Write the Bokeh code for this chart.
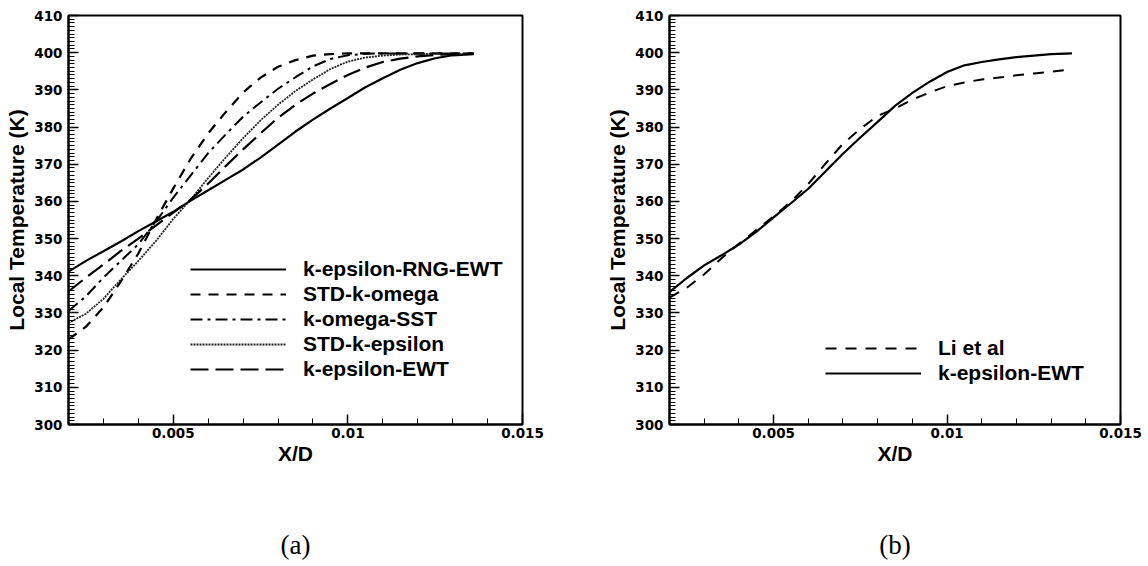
from bokeh.plotting import figure
from bokeh.layouts import row
from bokeh.models import Range1d, FixedTicker, Legend, LegendItem, LinearAxis
from bokeh.embed import file_html
from bokeh.resources import INLINE

# ---------------- data: panel (a) ----------------
x_a = [0.002, 0.0025, 0.003, 0.0035, 0.004, 0.0045, 0.005, 0.0055, 0.006, 0.0065,
       0.007, 0.0075, 0.008, 0.0085, 0.009, 0.0095, 0.010, 0.0105, 0.011, 0.0115,
       0.012, 0.0125, 0.013, 0.0136]
k_eps_rng_ewt = [341.1, 344.0, 346.6, 349.2, 352.0, 354.6, 357.2, 360.2, 363.0, 365.8,
                 368.6, 371.8, 375.3, 378.8, 382.0, 385.0, 387.8, 390.7, 393.1, 395.4,
                 397.2, 398.5, 399.3, 399.6]
std_k_omega = [322.9, 326.3, 331.5, 338.5, 346.0, 355.0, 363.5, 371.5, 378.3, 384.0,
               389.3, 393.3, 396.2, 398.0, 399.2, 399.6, 399.8, 399.8, 399.8, 399.8,
               399.8, 399.8, 399.8, 399.8]
k_omega_sst = [330.5, 334.5, 339.5, 344.0, 348.5, 354.5, 361.0, 367.0, 373.0, 378.0,
               382.8, 386.6, 390.3, 393.4, 396.3, 398.3, 399.3, 399.7, 399.8, 399.8,
               399.8, 399.8, 399.8, 399.8]
std_k_eps = [327.3, 329.8, 333.8, 339.0, 344.0, 349.3, 355.3, 360.5, 366.3, 371.8,
             377.0, 381.8, 386.0, 389.7, 392.8, 395.6, 397.6, 398.7, 399.2, 399.5,
             399.6, 399.7, 399.7, 399.7]
k_eps_ewt_a = [335.8, 339.5, 343.0, 346.7, 350.0, 353.5, 357.0, 360.5, 364.8, 369.5,
               374.0, 378.3, 382.5, 386.0, 389.0, 391.6, 394.0, 396.0, 397.5, 398.4,
               399.0, 399.4, 399.6, 399.7]

# ---------------- data: panel (b) ----------------
x_b = [0.002, 0.0025, 0.003, 0.0035, 0.004, 0.0045, 0.005, 0.0055, 0.006, 0.0065,
       0.007, 0.0075, 0.008, 0.0085, 0.009, 0.0095, 0.010, 0.0105, 0.011, 0.0115,
       0.012, 0.0125, 0.013, 0.0136]
li_et_al = [334.1, 336.8, 340.4, 344.7, 348.6, 352.3, 356.0, 359.9, 364.7, 370.2,
            375.5, 379.5, 383.0, 385.0, 387.4, 389.3, 391.0, 392.0, 392.8, 393.3,
            393.9, 394.4, 394.9, 395.5]
k_eps_ewt_b = [335.6, 339.4, 342.8, 345.5, 348.4, 351.8, 355.7, 359.5, 363.4, 368.1,
               372.8, 377.2, 381.4, 385.7, 389.2, 392.2, 394.8, 396.6, 397.5, 398.2,
               398.8, 399.2, 399.6, 399.8]

# ---------------- ticks / labels ----------------
x_major_ticks = [0.005, 0.01, 0.015]
x_tick_labels = ["0.005", "0.01", "0.015"]
x_minor_ticks = [0.002, 0.003, 0.004, 0.005, 0.006, 0.007, 0.008, 0.009, 0.010,
                 0.011, 0.012, 0.013, 0.014, 0.015]
y_major_ticks = [300, 310, 320, 330, 340, 350, 360, 370, 380, 390, 400, 410]
y_minor_ticks = list(range(300, 411, 1))

AX_FONT = "Liberation Sans"
TICK_FONT = "DejaVu Sans"


def make_fig(width, left, right, top, bottom, caption, caption_gap):
    p = figure(width=width, height=566,
               x_range=Range1d(0.002, 0.015), y_range=Range1d(300, 410),
               output_backend="svg", toolbar_location=None,
               min_border_left=left, min_border_right=right,
               min_border_top=top, min_border_bottom=bottom)
    p.grid.visible = False
    p.background_fill_color = "white"
    p.border_fill_color = "white"
    p.outline_line_color = "black"
    p.outline_line_width = 2
    p.outline_line_alpha = 1

    p.xaxis.ticker = FixedTicker(ticks=x_major_ticks, minor_ticks=x_minor_ticks)
    p.xaxis.major_label_overrides = dict(zip(x_major_ticks, x_tick_labels))
    p.yaxis.ticker = FixedTicker(ticks=y_major_ticks, minor_ticks=y_minor_ticks)

    for ax in (p.xaxis[0], p.yaxis[0]):
        ax.axis_line_color = "black"
        ax.axis_line_width = 2
        ax.major_tick_line_color = "black"
        ax.major_tick_line_width = 1.5
        ax.minor_tick_line_color = "black"
        ax.minor_tick_line_width = 1
        ax.major_tick_in = 10
        ax.major_tick_out = 0
        ax.minor_tick_in = 6
        ax.minor_tick_out = 0
        ax.major_label_text_font = TICK_FONT
        ax.major_label_text_font_style = "bold"
        ax.major_label_text_font_size = "13.5px"
        ax.major_label_text_color = "black"
        ax.axis_label_text_font = AX_FONT
        ax.axis_label_text_font_style = "bold"
        ax.axis_label_text_font_size = "21px"
        ax.axis_label_text_color = "black"

    p.xaxis.axis_label = "X/D"
    p.yaxis.axis_label = "Local Temperature (K)"
    p.xaxis.major_label_standoff = 3
    p.xaxis.axis_label_standoff = 1
    p.yaxis.major_label_standoff = 6
    p.yaxis.axis_label_standoff = 3

    # panel caption "(a)" / "(b)" as the label of a bare extra axis below
    cap = LinearAxis(ticker=FixedTicker(ticks=[]), axis_label=caption,
                     axis_line_alpha=0, major_tick_in=0, major_tick_out=0,
                     minor_tick_in=0, minor_tick_out=0,
                     major_label_text_alpha=0,
                     axis_label_text_font="Liberation Serif",
                     axis_label_text_font_style="normal",
                     axis_label_text_font_size="27px",
                     axis_label_text_color="black",
                     axis_label_standoff=caption_gap)
    p.add_layout(cap, "below")
    return p


def style_legend(legend, loc, glyph_w, standoff):
    legend.location = loc
    legend.border_line_alpha = 0
    legend.background_fill_alpha = 0
    legend.padding = 0
    legend.margin = 0
    legend.spacing = 1
    legend.glyph_width = glyph_w
    legend.glyph_height = 20
    legend.label_height = 20
    legend.label_standoff = standoff
    legend.label_text_font = AX_FONT
    legend.label_text_font_style = "bold"
    legend.label_text_font_size = "21px"
    legend.label_text_color = "black"
    legend.label_text_baseline = "middle"


# ---------------- panel (a) ----------------
pa = make_fig(580, 68, 58, 15, 139, "(a)", 62)
r1 = pa.line(x_a, k_eps_rng_ewt, line_color="black", line_width=2.2)
r2 = pa.line(x_a, std_k_omega, line_color="black", line_width=2.2, line_dash="10 8")
r3 = pa.line(x_a, k_omega_sst, line_color="black", line_width=2.0, line_dash="12 5 3 5")
r4 = pa.line(x_a, std_k_eps, line_color="#222222", line_width=1.8, line_dash="2 1")
r5 = pa.line(x_a, k_eps_ewt_a, line_color="black", line_width=2.2, line_dash="18 7")
leg_a = Legend(items=[LegendItem(label="k-epsilon-RNG-EWT", renderers=[r1]),
                      LegendItem(label="STD-k-omega", renderers=[r2]),
                      LegendItem(label="k-omega-SST", renderers=[r3]),
                      LegendItem(label="STD-k-epsilon", renderers=[r4]),
                      LegendItem(label="k-epsilon-EWT", renderers=[r5])])
style_legend(leg_a, (122, 43), 96, 17)
pa.add_layout(leg_a)

# ---------------- panel (b) ----------------
pb = make_fig(568, 89, 28, 13, 142, "(b)", 62)
s1 = pb.line(x_b, li_et_al, line_color="black", line_width=2.0, line_dash="11 9")
s2 = pb.line(x_b, k_eps_ewt_b, line_color="black", line_width=2.2)
leg_b = Legend(items=[LegendItem(label="Li et al", renderers=[s1]),
                      LegendItem(label="k-epsilon-EWT", renderers=[s2])])
style_legend(leg_b, (156, 39), 96, 17)
pb.add_layout(leg_b)

layout = row(pa, pb, spacing=0)
open("out.html", "w").write(file_html(layout, INLINE))
